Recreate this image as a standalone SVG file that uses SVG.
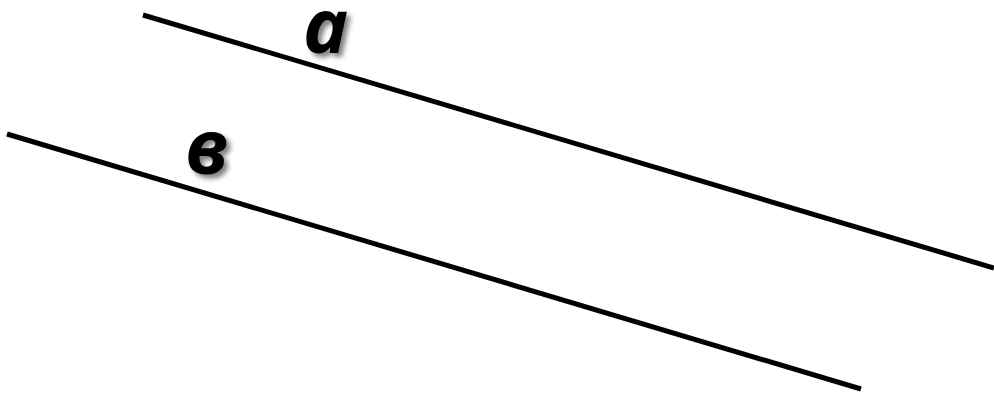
<svg xmlns="http://www.w3.org/2000/svg" width="994" height="396" viewBox="0 0 994 396">
<defs>
<filter id="sh" x="-30%" y="-30%" width="160%" height="160%">
<feGaussianBlur in="SourceAlpha" stdDeviation="2.5"/>
<feOffset dx="4" dy="4" result="b"/>
<feComponentTransfer><feFuncA type="linear" slope="0.5"/></feComponentTransfer>
<feMerge><feMergeNode/><feMergeNode in="SourceGraphic"/></feMerge>
</filter>
</defs>
<style>
.ln{stroke:#000;stroke-width:5;fill:none}
.lb{font-family:"Open Sans","Liberation Sans",sans-serif;font-weight:700;font-style:italic;font-size:76px;fill:#000;filter:url(#sh)}
</style>
<rect width="994" height="396" fill="#fff"/>
<g id="connectors">
<line id="line-a" class="ln" x1="143" y1="15" x2="994" y2="268"/>
<line id="line-b" class="ln" x1="7" y1="134" x2="861" y2="389"/>
</g>
<g id="label-a"><text class="lb" x="303" y="53">a</text></g>
<g id="label-b"><text class="lb" x="185" y="174">в</text></g>
</svg>
